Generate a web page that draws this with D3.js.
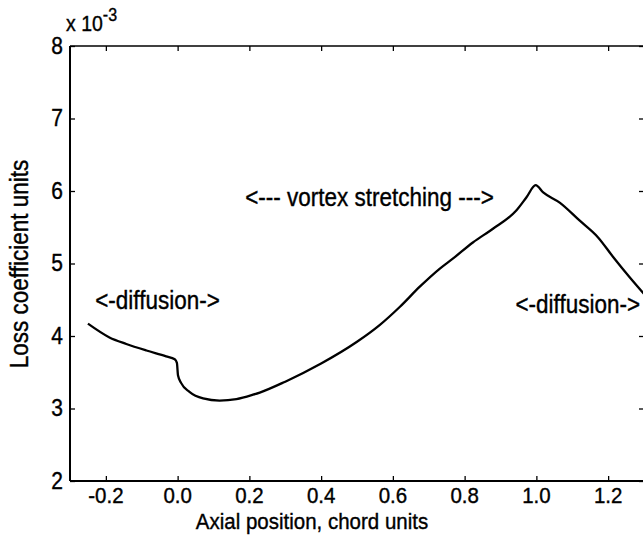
<!DOCTYPE html>
<html>
<head>
<meta charset="utf-8">
<script src="https://cdn.jsdelivr.net/npm/d3@7"></script>
<style>
  body { margin: 0; background: #fff; }
  svg { display: block; }
  text { font-family: "Liberation Sans", Arial, Helvetica, sans-serif; fill: #000; stroke: #000; stroke-width: 0.35px; }
</style>
</head>
<body>
<svg id="chart" width="643" height="539"></svg>
<script>
// Axial position (chord units) and loss coefficient (x 10^-3)
const position = [-0.250, -0.190, -0.143, -0.087, -0.032, -0.008, -0.002, 0.001, 0.010, 0.033,
                  0.071, 0.117, 0.164, 0.210, 0.229, 0.300, 0.400, 0.500, 0.563, 0.619,
                  0.675, 0.731, 0.768, 0.823, 0.879, 0.944, 0.972, 0.998, 1.019, 1.065,
                  1.121, 1.172, 1.214, 1.260, 1.300];
const loss = [4.17, 3.98, 3.89, 3.80, 3.72, 3.68, 3.63, 3.46, 3.35, 3.23,
              3.14, 3.11, 3.13, 3.19, 3.22, 3.37, 3.62, 3.92, 4.15, 4.40,
              4.68, 4.93, 5.07, 5.29, 5.48, 5.73, 5.91, 6.08, 5.98, 5.84,
              5.59, 5.36, 5.09, 4.81, 4.58];

const xTickValues = [-0.2, 0.0, 0.2, 0.4, 0.6, 0.8, 1.0, 1.2];
const xTickLabels = ["-0.2", "0.0", "0.2", "0.4", "0.6", "0.8", "1.0", "1.2"];
const yTickValues = [2, 3, 4, 5, 6, 7, 8];
const yTickLabels = ["2", "3", "4", "5", "6", "7", "8"];

const noteTexts = ["<-diffusion->", "<--- vortex stretching --->", "<-diffusion->"];
const xTitle = "Axial position, chord units";
const yTitle = "Loss coefficient units";

// Layout
const W = 643, H = 539;
const box = { left: 70, right: 644, top: 46, bottom: 481 };
const stretch = 1.12;       // glyphs drawn slightly tall
const tickLen = 5;

const svg = d3.select("#chart");
svg.append("rect").attr("width", W).attr("height", H).attr("fill", "#fff");

const x = d3.scaleLinear().domain([-0.3, 1.3]).range([box.left, box.right]);
const y = d3.scaleLinear().domain([2, 8]).range([box.bottom, box.top]);

function label(g, str, px, py, size, anchor, rotate) {
  return g.append("text")
    .attr("transform", `translate(${px},${py})` + (rotate ? ` rotate(${rotate})` : "") + ` scale(1,${stretch})`)
    .attr("font-size", size)
    .attr("text-anchor", anchor)
    .text(str);
}

// Axes: ticks pointing inward on all four sides
const bottomAxis = d3.axisBottom(x).tickValues(xTickValues).tickSize(-tickLen).tickFormat("");
const topAxis = d3.axisTop(x).tickValues(xTickValues).tickSize(-tickLen).tickFormat("");
const leftAxis = d3.axisLeft(y).tickValues(yTickValues).tickSize(-tickLen).tickFormat("");
const rightAxis = d3.axisRight(y).tickValues(yTickValues).tickSize(-tickLen).tickFormat("");

function styleAxis(g) {
  g.select(".domain").remove();
  g.selectAll(".tick line").attr("stroke", "#000").attr("stroke-width", 1.3);
}
svg.append("g").attr("transform", `translate(0,${box.bottom})`).call(bottomAxis).call(styleAxis);
svg.append("g").attr("transform", `translate(0,${box.top})`).call(topAxis).call(styleAxis);
svg.append("g").attr("transform", `translate(${box.left},0)`).call(leftAxis).call(styleAxis);
svg.append("g").attr("transform", `translate(${box.right},0)`).call(rightAxis).call(styleAxis);

// Frame
const frame = svg.append("g").attr("stroke", "#000").attr("fill", "none");
frame.append("line").attr("x1", box.left).attr("x2", box.right).attr("y1", box.top).attr("y2", box.top).attr("stroke-width", 1.3);
frame.append("line").attr("x1", box.left).attr("x2", box.right).attr("y1", box.bottom).attr("y2", box.bottom).attr("stroke-width", 2);
frame.append("line").attr("x1", box.left).attr("x2", box.left).attr("y1", box.top).attr("y2", box.bottom).attr("stroke-width", 2);
frame.append("line").attr("x1", box.right).attr("x2", box.right).attr("y1", box.top).attr("y2", box.bottom).attr("stroke-width", 1.3);

// Tick labels
const txt = svg.append("g");
xTickValues.forEach((v, i) => label(txt, xTickLabels[i], x(v), box.bottom + 22, 20.5, "middle"));
yTickValues.forEach((v, i) => label(txt, yTickLabels[i], box.left - 7, y(v) + 7.5, 21, "end"));

// Exponent marker
const ex = txt.append("text")
  .attr("transform", `translate(${box.left - 4},31) scale(1,${stretch})`)
  .attr("font-size", 19.5);
ex.append("tspan").text("x 10");
ex.append("tspan").attr("dy", -9).attr("font-size", 16).text("-3");

// Axis titles
label(txt, xTitle, 312, 529, 20.5, "middle");
label(txt, yTitle, 28, 264, 22.5, "middle", -90);

// Curve
const line = d3.line()
  .x((d, i) => x(position[i]))
  .y((d, i) => y(loss[i]))
  .curve(d3.curveMonotoneX);
svg.append("path")
  .datum(loss)
  .attr("d", line)
  .attr("fill", "none")
  .attr("stroke", "#000")
  .attr("stroke-width", 2.3)
  .attr("stroke-linejoin", "round");

// Region annotations (anchored in data coordinates)
const notePlace = [
  { px: -0.056, py: 4.37, anchor: "middle" },
  { px: 0.535, py: 5.79, anchor: "middle" },
  { px: 1.289, py: 4.32, anchor: "end" }
];
noteTexts.forEach((s, i) => {
  const p = notePlace[i];
  label(txt, s, x(p.px), y(p.py), 22.5, p.anchor);
});
</script>
</body>
</html>
